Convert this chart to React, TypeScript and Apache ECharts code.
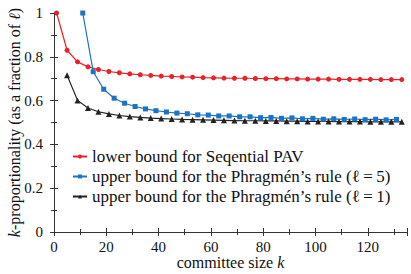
import React, { useEffect, useRef } from "react";
import * as echarts from "echarts";

const redK = [1, 5, 9, 13, 17, 21, 25, 29, 33, 37, 41, 45, 49, 53, 57, 61, 65, 69, 73, 77, 81, 85, 89, 93, 97, 101, 105, 109, 113, 117, 121, 125, 129, 133];
const redV = [1.0, 0.83, 0.777, 0.754, 0.742, 0.733, 0.727, 0.722, 0.718, 0.715, 0.712, 0.71, 0.708, 0.707, 0.705, 0.704, 0.703, 0.702, 0.702, 0.701, 0.7, 0.7, 0.699, 0.699, 0.698, 0.698, 0.698, 0.697, 0.697, 0.697, 0.697, 0.696, 0.696, 0.696];

const blueK = [11, 15, 19, 23, 27, 31, 35, 39, 43, 47, 51, 55, 59, 63, 67, 71, 75, 79, 83, 87, 91, 95, 99, 103, 107, 111, 115, 119, 123, 127, 131];
const blueV = [1.0, 0.732, 0.652, 0.611, 0.588, 0.573, 0.562, 0.554, 0.548, 0.543, 0.54, 0.535, 0.534, 0.53, 0.53, 0.526, 0.526, 0.522, 0.523, 0.519, 0.521, 0.517, 0.519, 0.515, 0.517, 0.514, 0.516, 0.513, 0.515, 0.512, 0.514];

const blackK = [5, 9, 13, 17, 21, 25, 29, 33, 37, 41, 45, 49, 53, 57, 61, 65, 69, 73, 77, 81, 85, 89, 93, 97, 101, 105, 109, 113, 117, 121, 125, 129, 133];
const blackV = [0.716, 0.601, 0.566, 0.549, 0.539, 0.532, 0.527, 0.523, 0.52, 0.518, 0.516, 0.514, 0.513, 0.512, 0.511, 0.51, 0.509, 0.508, 0.508, 0.507, 0.507, 0.506, 0.506, 0.505, 0.505, 0.505, 0.504, 0.504, 0.504, 0.503, 0.503, 0.503, 0.503];

const seriesNames = [
  "lower bound for Seqential PAV",
  "upper bound for the Phragmén’s rule (ℓ\u2009=\u20095)",
  "upper bound for the Phragmén’s rule (ℓ\u2009=\u20091)",
];
const colors = ["#ec2027", "#1a73c4", "#222222"];

const FONT = "'Liberation Serif', 'DejaVu Serif', serif";

export default function App() {
  const ref = useRef<HTMLDivElement>(null);
  useEffect(() => {
    if (!ref.current) return;
    const chart = echarts.init(ref.current, undefined, { renderer: "svg" });
    const zip = (k: number[], v: number[]) => k.map((x, i) => [x, v[i]]);
    const frameLine = { show: true, lineStyle: { color: "#333", width: 1 } };
    const tick = { show: true, inside: true, length: 4, lineStyle: { color: "#333" } };
    const minor = { show: true, splitNumber: 2, length: 3, lineStyle: { color: "#333" } };
    chart.setOption({
      animation: false,
      textStyle: { fontFamily: FONT },
      grid: { left: 54, right: 4, top: 13, bottom: 42, containLabel: false, outerBoundsMode: "none" },
      legend: {
        orient: "vertical",
        left: 67,
        top: 143,
        itemWidth: 14,
        itemHeight: 5,
        itemGap: 3,
        data: seriesNames,
        textStyle: { fontFamily: FONT, fontSize: 17, color: "#111", padding: [0, 0, 0, 0] },
      },
      xAxis: [
        {
          type: "value",
          min: 0,
          max: 135,
          interval: 20,
          name: "committee size {i|k}",
          nameLocation: "middle",
          nameGap: 22,
          nameMoveOverlap: false,
          nameTextStyle: {
            fontFamily: FONT,
            fontSize: 16,
            lineHeight: 16,
            color: "#111",
            rich: { i: { fontStyle: "italic", fontFamily: FONT, fontSize: 16, lineHeight: 16, color: "#111" } },
          },
          axisLine: frameLine,
          axisTick: tick,
          minorTick: minor,
          splitLine: { show: false },
          axisLabel: { fontFamily: FONT, fontSize: 15, color: "#111", margin: 7, showMaxLabel: false },
        },
        {
          type: "value",
          position: "top",
          min: 0,
          max: 135,
          interval: 20,
          axisLine: frameLine,
          axisTick: tick,
          minorTick: minor,
          splitLine: { show: false },
          axisLabel: { show: false },
        },
      ],
      yAxis: [
        {
          type: "value",
          min: 0,
          max: 1,
          interval: 0.2,
          name: "{i|k}-proportionality (as a fraction of {i|ℓ})",
          nameLocation: "middle",
          nameGap: 32,
          nameMoveOverlap: false,
          nameTextStyle: {
            fontFamily: FONT,
            fontSize: 16,
            color: "#111",
            rich: { i: { fontStyle: "italic", fontFamily: FONT, fontSize: 16, color: "#111" } },
          },
          axisLine: frameLine,
          axisTick: tick,
          minorTick: minor,
          splitLine: { show: false },
          axisLabel: { fontFamily: FONT, fontSize: 15, color: "#111", margin: 11 },
        },
        {
          type: "value",
          position: "right",
          min: 0,
          max: 1,
          interval: 0.2,
          axisLine: frameLine,
          axisTick: tick,
          minorTick: minor,
          splitLine: { show: false },
          axisLabel: { show: false },
        },
      ],
      series: [
        {
          name: seriesNames[0],
          type: "line",
          data: zip(redK, redV),
          symbol: "circle",
          symbolSize: 5,
          color: colors[0],
          lineStyle: { width: 1.2, color: colors[0] },
          itemStyle: { color: colors[0] },
        },
        {
          name: seriesNames[1],
          type: "line",
          data: zip(blueK, blueV),
          symbol: "rect",
          symbolSize: 5,
          color: colors[1],
          lineStyle: { width: 1.2, color: colors[1] },
          itemStyle: { color: colors[1] },
        },
        {
          name: seriesNames[2],
          type: "line",
          data: zip(blackK, blackV),
          symbol: "triangle",
          symbolSize: 6,
          color: colors[2],
          lineStyle: { width: 1.2, color: colors[2] },
          itemStyle: { color: colors[2] },
        },
      ],
    });
    return () => chart.dispose();
  }, []);
  return <div ref={ref} style={{ width: 411, height: 274, position: "absolute", left: 0, top: 0, background: "#fff" }} />;
}
